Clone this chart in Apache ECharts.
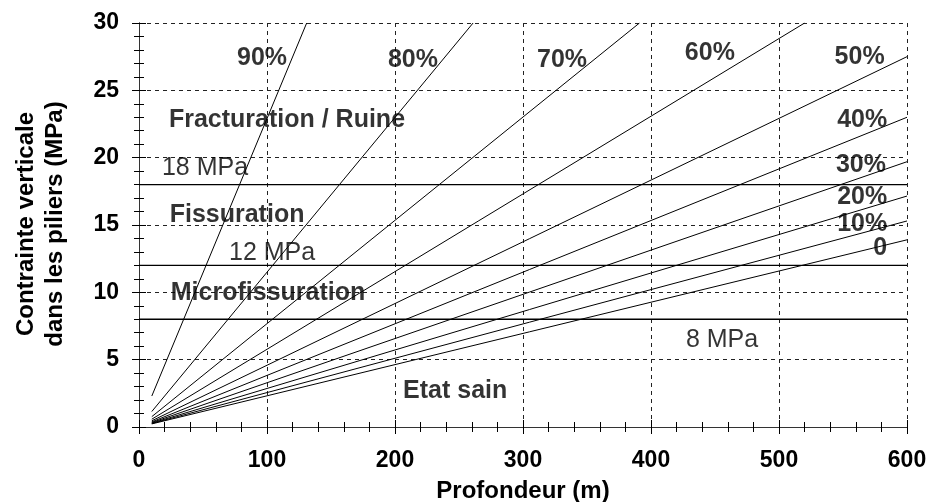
<!DOCTYPE html>
<html>
<head>
<meta charset="utf-8">
<script src="https://cdn.jsdelivr.net/npm/echarts@6/dist/echarts.min.js"></script>
<style>
html,body{margin:0;padding:0;background:#fff;overflow:hidden;}
#c{width:933px;height:502px;}
</style>
</head>
<body>
<div id="c"></div>
<script>
// Depth (m) / stress (MPa) end points, one line per extraction ratio
const ratioNames = ['0', '10%', '20%', '30%', '40%', '50%', '60%', '70%', '80%', '90%'];
const line0  = [[10, 0.23], [600, 13.9]];
const line10 = [[10, 0.26], [600, 15.3]];
const line20 = [[10, 0.29], [600, 17.15]];
const line30 = [[10, 0.33], [600, 19.7]];
const line40 = [[10, 0.38], [600, 23.0]];
const line50 = [[10, 0.46], [600, 27.5]];
const line60 = [[10, 0.58], [520, 30]];
const line70 = [[10, 0.77], [391, 30]];
const line80 = [[10, 1.15], [261, 30]];
const line90 = [[10, 2.3], [131, 30]];
const ratioLines = [line0, line10, line20, line30, line40, line50, line60, line70, line80, line90];

// Threshold stresses (MPa)
const thresholds = [8, 12, 18];
const thresholdLabels = ['8 MPa', '12 MPa', '18 MPa'];

// Zone names
const zoneNames = ['Fracturation / Ruine', 'Fissuration', 'Microfissuration', 'Etat sain'];

// Axis tick labels
const xTicks = [0, 100, 200, 300, 400, 500, 600];
const yTicks = [0, 5, 10, 15, 20, 25, 30];

// Annotation anchor positions (data coordinates)
const ratioLabelPos = [[579, 13.3], [565, 15.07], [565, 17.07], [564, 19.45], [565, 22.8], [563, 27.47], [446, 27.77], [330.5, 27.25], [214, 27.25], [96.1, 27.4]];
const thresholdLabelPos = [[455.5, 6.46], [104, 12.9], [51.6, 19.2]];
const zoneLabelPos = [[115.6, 22.8], [76.6, 15.74], [100.8, 9.95], [247, 2.67]];

const FONT = '"Liberation Sans", Arial, sans-serif';
const chart = echarts.init(document.getElementById('c'), null, {renderer: 'canvas', width: 933, height: 502});

const series = [];
ratioLines.forEach((d, i) => {
  series.push({
    type: 'line', name: ratioNames[i], data: d, symbol: 'none', silent: true,
    lineStyle: {color: '#000', width: 1}, clip: true, z: 3
  });
});
thresholds.forEach((t) => {
  series.push({
    type: 'line', data: [[0, t], [600, t]], symbol: 'none', silent: true,
    lineStyle: {color: '#000', width: 1.4}, z: 3
  });
});

const labelData = [];
ratioNames.forEach((n, i) => labelData.push({value: ratioLabelPos[i], name: n, bold: true}));
zoneNames.forEach((n, i) => labelData.push({value: zoneLabelPos[i], name: n, bold: true}));
thresholdLabels.forEach((n, i) => labelData.push({value: thresholdLabelPos[i], name: n, bold: false}));

series.push({
  type: 'scatter', symbolSize: 0, silent: true, z: 5,
  data: labelData.map(d => ({
    value: d.value, name: d.name,
    label: {
      show: true, position: 'inside', formatter: d.name,
      fontFamily: FONT, fontSize: 25, color: '#000',
      fontWeight: d.bold ? 'bold' : 'normal'
    }
  }))
});

const gridLine = {show: true, lineStyle: {color: '#222', type: [4, 4], width: 1}};

chart.setOption({
  animation: false,
  backgroundColor: '#fff',
  grid: {left: 139, right: 26, top: 23, bottom: 75, show: false, containLabel: false, outerBoundsMode: 'none'},
  xAxis: [{
    type: 'value', min: 0, max: 600, interval: 100,
    name: 'Profondeur (m)', nameLocation: 'middle', nameGap: 52,
    nameTextStyle: {fontFamily: FONT, fontSize: 24, fontWeight: 'bold', color: '#000'},
    axisLine: {show: true, lineStyle: {color: '#000', width: 1}},
    axisTick: {show: true, inside: true, length: 7, lineStyle: {color: '#000'}},
    minorTick: {show: true, splitNumber: 5, length: 5, lineStyle: {color: '#000'}},
    axisLabel: {fontFamily: FONT, fontSize: 23, fontWeight: 'bold', color: '#000', margin: 22,
      formatter: v => xTicks.includes(v) ? String(v) : ''},
    splitLine: gridLine
  }, {
    type: 'value', position: 'top', min: 0, max: 600, interval: 100,
    axisLine: {show: true, lineStyle: {color: '#333', width: 1}},
    axisTick: {show: true, inside: true, length: 7, lineStyle: {color: '#000'}},
    minorTick: {show: true, splitNumber: 5, length: 5, lineStyle: {color: '#000'}},
    axisLabel: {show: false}, splitLine: {show: false}
  }],
  yAxis: [{
    type: 'value', min: 0, max: 30, interval: 5,
    axisLine: {show: true, lineStyle: {color: '#000', width: 1}},
    axisTick: {show: true, inside: true, length: 7, lineStyle: {color: '#000'}},
    minorTick: {show: true, splitNumber: 5, length: 5, lineStyle: {color: '#000'}},
    axisLabel: {fontFamily: FONT, fontSize: 23, fontWeight: 'bold', color: '#000', margin: 20,
      formatter: v => yTicks.includes(v) ? String(v) : ''},
    splitLine: gridLine
  }, {
    type: 'value', position: 'right', min: 0, max: 30, interval: 5,
    axisLine: {show: true, lineStyle: {color: '#333', width: 1}},
    axisTick: {show: true, inside: true, length: 7, lineStyle: {color: '#000'}},
    minorTick: {show: true, splitNumber: 5, length: 5, lineStyle: {color: '#000'}},
    axisLabel: {show: false}, splitLine: {show: false}
  }],
  graphic: [{
    type: 'text', x: 41, y: 224, rotation: Math.PI / 2,
    style: {
      text: 'Contrainte verticale\ndans les piliers (MPa)',
      font: 'bold 24px ' + FONT, fill: '#000',
      textAlign: 'center', textVerticalAlign: 'middle', lineHeight: 29
    }
  }],
  series: series
});
</script>
</body>
</html>
